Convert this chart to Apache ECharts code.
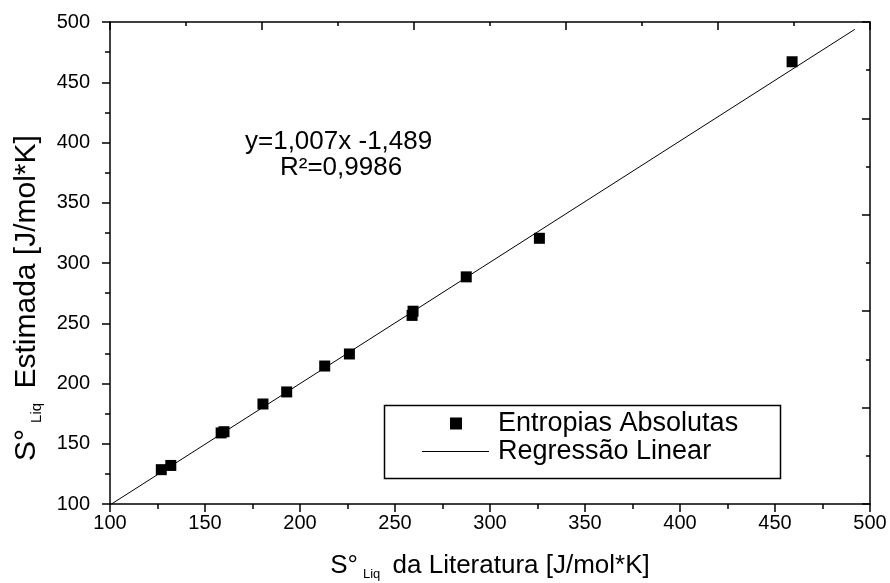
<!DOCTYPE html>
<html>
<head>
<meta charset="utf-8">
<script src="https://cdn.jsdelivr.net/npm/echarts@6/dist/echarts.min.js"></script>
<style>
  html, body { margin: 0; padding: 0; background: #fff; }
  #chart { width: 890px; height: 583px; }
</style>
</head>
<body>
<div id="chart"></div>
<script>
// S°Liq literature values vs estimated values
const litValues = [127, 132, 158.5, 160, 180.5, 193, 213, 226, 259.5, 259, 287.5, 326, 459];
const estValues = [128.5, 132, 159, 160, 183, 193, 214.5, 224.5, 260, 256.5, 288.5, 320.5, 467];
// regression line end points (y = 1,007x - 1,489)
const fitX = [100, 492];
const fitY = [99.2, 493.9];
const equationLines = ['y=1,007x -1,489', 'R²=0,9986'];
const seriesNames = ['Entropias Absolutas', 'Regressão Linear'];

const font = '"Liberation Sans", Arial, sans-serif';
const black = '#000';

const chart = echarts.init(document.getElementById('chart'), null, { renderer: 'canvas' });

const baseAxis = {
  type: 'value',
  min: 100,
  max: 500,
  splitLine: { show: false },
  axisLine: { show: true, onZero: false, lineStyle: { color: black, width: 1.5 } },
};

const options = {
  animation: false,
  backgroundColor: '#fff',
  grid: { left: 110, right: 20, top: 22, bottom: 79, outerBoundsMode: 'none', containLabel: false },
  xAxis: [
    {
      ...baseAxis,
      position: 'bottom',
      interval: 50,
      axisTick: { length: 8, lineStyle: { color: black, width: 1.5 } },
      minorTick: { show: true, splitNumber: 2, length: 5, lineStyle: { color: black, width: 1.5 } },
      axisLabel: { color: black, fontFamily: font, fontSize: 20, margin: 9 },
      name: '{m|S°}{s|Liq}{m| da Literatura [J/mol*K]}',
      nameLocation: 'middle',
      nameGap: 46,
      nameTextStyle: {
        rich: {
          m: { fontFamily: font, fontSize: 26, color: black },
          s: { fontFamily: font, fontSize: 13, color: black, padding: [18, 5, 0, 5] },
        },
      },
    },
    {
      ...baseAxis,
      position: 'top',
      interval: 80,
      axisTick: { inside: true, length: 8, lineStyle: { color: black, width: 1.5 } },
      minorTick: { show: true, splitNumber: 2, length: 4, lineStyle: { color: black, width: 1.5 } },
      axisLabel: { show: false },
    },
  ],
  yAxis: [
    {
      ...baseAxis,
      position: 'left',
      interval: 50,
      axisTick: { length: 8, lineStyle: { color: black, width: 1.5 } },
      minorTick: { show: true, splitNumber: 2, length: 5, lineStyle: { color: black, width: 1.5 } },
      axisLabel: { color: black, fontFamily: font, fontSize: 20, margin: 20 },
      name: '{m|S°}{s|Liq}{m| Estimada [J/mol*K]}',
      nameLocation: 'middle',
      nameGap: 66,
      nameTextStyle: {
        padding: [0, 70, 0, 0],
        rich: {
          m: { fontFamily: font, fontSize: 30, color: black },
          s: { fontFamily: font, fontSize: 15, color: black, padding: [20, 6, 0, 6] },
        },
      },
    },
    {
      ...baseAxis,
      position: 'right',
      interval: 80,
      axisTick: { inside: true, length: 8, lineStyle: { color: black, width: 1.5 } },
      minorTick: { show: true, splitNumber: 2, length: 4, lineStyle: { color: black, width: 1.5 } },
      axisLabel: { show: false },
    },
  ],
  legend: [
    {
      data: [{ name: seriesNames[0], icon: 'rect' }],
      left: 450,
      top: 410,
      itemWidth: 12,
      itemHeight: 12,
      itemGap: 0,
      padding: 0,
      textStyle: { fontFamily: font, fontSize: 27, color: black, padding: [0, 0, 0, 31] },
    },
    {
      data: [{ name: seriesNames[1], icon: 'rect' }],
      left: 422,
      top: 438,
      itemWidth: 67,
      itemHeight: 1,
      itemGap: 0,
      padding: 0,
      textStyle: { fontFamily: font, fontSize: 27, color: black, padding: [0, 0, 0, 4] },
    },
  ],
  graphic: [
    {
      type: 'rect',
      left: 382,
      top: 403,
      shape: { width: 396, height: 73 },
      style: { fill: 'none', stroke: black, lineWidth: 1.5 },
      z: 100,
    },
    {
      type: 'text',
      left: 245,
      top: 129,
      style: { text: equationLines[0], font: '26px ' + font, fill: black },
    },
    {
      type: 'text',
      left: 280,
      top: 155,
      style: { text: equationLines[1], font: '26px ' + font, fill: black },
    },
  ],
  series: [
    {
      name: seriesNames[0],
      type: 'scatter',
      symbol: 'rect',
      symbolSize: 11,
      itemStyle: { color: black, opacity: 1 },
      data: litValues.map((x, i) => [x, estValues[i]]),
      z: 3,
    },
    {
      name: seriesNames[1],
      type: 'line',
      symbol: 'none',
      lineStyle: { color: black, width: 1 },
      itemStyle: { color: black },
      data: fitX.map((x, i) => [x, fitY[i]]),
      z: 2,
    },
  ],
};

chart.setOption(options);
</script>
</body>
</html>
